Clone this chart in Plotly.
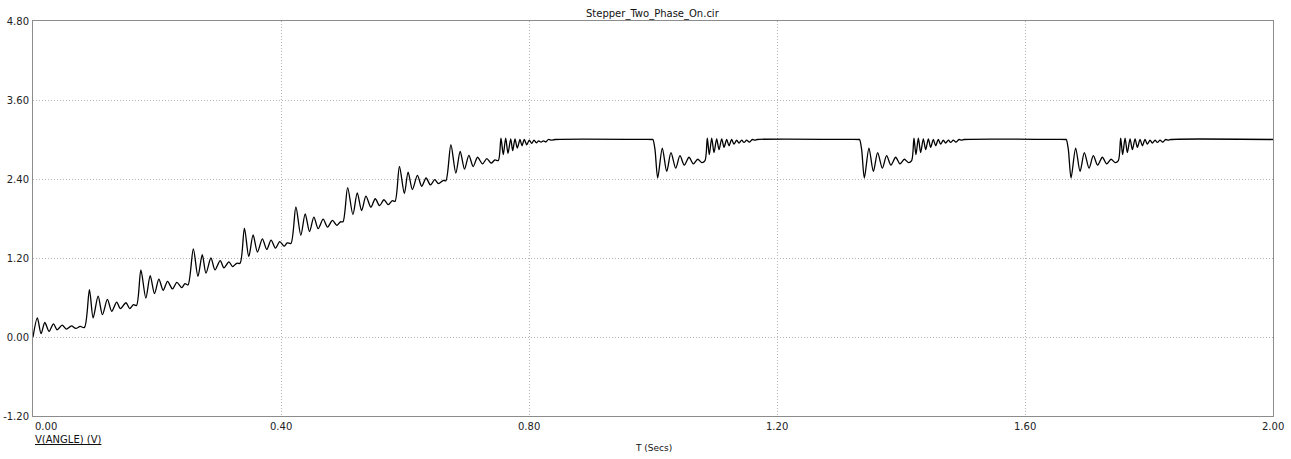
import plotly.graph_objects as go

# ---- data ----
ramp_t = [0.0, 0.007, 0.013, 0.019, 0.026, 0.033, 0.039, 0.047, 0.054, 0.062, 0.069, 0.076, 0.083,
          0.091, 0.097, 0.105, 0.112, 0.120, 0.127, 0.135, 0.141, 0.150, 0.156, 0.162, 0.167,
          0.174, 0.182, 0.189, 0.196, 0.203, 0.210, 0.217, 0.225, 0.232, 0.240, 0.245, 0.250,
          0.2586, 0.266, 0.273, 0.279, 0.287, 0.2935, 0.302, 0.308, 0.316, 0.322, 0.3285, 0.334,
          0.341, 0.348, 0.355, 0.362, 0.370, 0.377, 0.384, 0.391, 0.398, 0.405, 0.410, 0.416,
          0.424, 0.432, 0.439, 0.446, 0.453, 0.460, 0.468, 0.475, 0.483, 0.490, 0.496, 0.500,
          0.5075, 0.516, 0.523, 0.530, 0.537, 0.545, 0.552, 0.559, 0.566, 0.573, 0.5795, 0.584,
          0.591, 0.599, 0.605, 0.612, 0.620, 0.627, 0.634, 0.641, 0.648, 0.654, 0.662, 0.666,
          0.674, 0.682, 0.689, 0.696, 0.703, 0.710, 0.717, 0.725, 0.732, 0.739, 0.745, 0.7505,
          0.7548, 0.7585, 0.7624, 0.7661, 0.7705, 0.7737, 0.7774, 0.7811, 0.7855, 0.7887, 0.7924,
          0.7963, 0.8005, 0.8044, 0.8081, 0.8118, 0.8156, 0.8194, 0.8231, 0.8274, 0.8311, 0.8366,
          0.842]
ramp_v = [0.0, 0.29, 0.05, 0.22, 0.085, 0.20, 0.11, 0.18, 0.12, 0.17, 0.13, 0.16, 0.146,
          0.72, 0.29, 0.62, 0.34, 0.57, 0.39, 0.53, 0.43, 0.52, 0.43, 0.49, 0.48,
          1.02, 0.59, 0.93, 0.66, 0.88, 0.71, 0.845, 0.73, 0.83, 0.75, 0.81, 0.79,
          1.34, 0.92, 1.25, 0.97, 1.20, 1.02, 1.16, 1.05, 1.14, 1.07, 1.12, 1.12,
          1.655, 1.22, 1.55, 1.29, 1.49, 1.33, 1.47, 1.35, 1.45, 1.38, 1.43, 1.42,
          1.975, 1.545, 1.87, 1.60, 1.82, 1.645, 1.79, 1.67, 1.77, 1.695, 1.75, 1.75,
          2.27, 1.86, 2.19, 1.92, 2.14, 1.97, 2.10, 1.995, 2.085, 2.01, 2.07, 2.06,
          2.59, 2.18, 2.505, 2.24, 2.455, 2.29, 2.415, 2.31, 2.39, 2.33, 2.38, 2.375,
          2.92, 2.49, 2.82, 2.55, 2.76, 2.59, 2.73, 2.63, 2.71, 2.64, 2.69, 2.68,
          3.02, 2.77, 3.02, 2.79, 3.01, 2.83, 3.01, 2.87, 3.0, 2.905, 3.0,
          2.92, 2.99, 2.94, 2.99, 2.95, 2.98, 2.96, 2.98, 2.965, 3.0, 2.99,
          3.0]

hold_level = 3.0

# response after each disturbance (time offset from the disturbance, value)
dip_dt = [0.0, 0.0032, 0.0076, 0.015, 0.0221, 0.029, 0.0366, 0.0435, 0.0505, 0.0581, 0.065,
          0.0721, 0.0785, 0.0839, 0.0876, 0.0908, 0.0947, 0.0984, 0.1027, 0.1065, 0.1108,
          0.1145, 0.1189, 0.1226, 0.1269, 0.1306, 0.135, 0.1387, 0.1431, 0.1468, 0.1511,
          0.1553, 0.1602, 0.1645, 0.1682]
dip_v = [3.0, 2.85, 2.415, 2.87, 2.515, 2.80, 2.565, 2.755, 2.61, 2.73, 2.63,
         2.70, 2.65, 2.68, 3.02, 2.77, 3.02, 2.80, 3.01, 2.845, 3.01,
         2.88, 3.0, 2.905, 3.0, 2.93, 2.99, 2.945, 2.99, 2.955, 2.99,
         2.96, 3.0, 2.99, 3.0]
dip_times = [1.0, 1.3333, 1.6667]
t_end = 2.0

x_ticks = [0.0, 0.4, 0.8, 1.2, 1.6, 2.0]
x_tick_text = ["0.00", "0.40", "0.80", "1.20", "1.60", "2.00"]
y_ticks = [-1.2, 0.0, 1.2, 2.4, 3.6, 4.8]
y_tick_text = ["-1.20", "0.00", "1.20", "2.40", "3.60", "4.80"]

# ---- assemble the series ----
t = list(ramp_t)
v = list(ramp_v)
for t0 in dip_times:
    t.append(t0 - 0.0005)
    v.append(hold_level)
    for dt, dv in zip(dip_dt, dip_v):
        t.append(t0 + dt)
        v.append(dv)
t.append(t_end)
v.append(hold_level)

font = "DejaVu Sans"
fig = go.Figure()
fig.add_trace(go.Scatter(x=t, y=v, mode="lines",
                         line=dict(color="#000000", width=1.3, shape="spline", smoothing=0.8),
                         hoverinfo="skip", showlegend=False))

axis_common = dict(showline=True, mirror=True, linecolor="#8c8c8c", linewidth=1,
                   showgrid=True, gridcolor="#b4b4b4", gridwidth=1, griddash="1px,2px",
                   zeroline=False, ticks="", fixedrange=True, automargin=False)

fig.update_xaxes(range=[0, 2.0], tickvals=x_ticks, showticklabels=False, **axis_common)
fig.update_yaxes(range=[-1.2, 4.8], tickvals=y_ticks, ticktext=y_tick_text,
                 tickfont=dict(family=font, size=10, color="#222222"), ticklabelstandoff=1,
                 **axis_common)

annotations = []
for xv, txt in zip(x_ticks, x_tick_text):
    annotations.append(dict(x=xv, y=0, xref="x", yref="paper", yshift=-10, text=txt,
                            showarrow=False, xanchor="left" if xv == 0 else "center",
                            yanchor="middle", font=dict(family=font, size=10, color="#222222")))
annotations.append(dict(x=0, y=0, xref="paper", yref="paper", yshift=-23,
                        text="<u>V(ANGLE) (V)</u>", showarrow=False, xanchor="left",
                        yanchor="middle", font=dict(family=font, size=10, color="#111111")))
annotations.append(dict(x=0.5, y=0, xref="paper", yref="paper", yshift=-32,
                        text="T (Secs)", showarrow=False, xanchor="center",
                        yanchor="middle", font=dict(family=font, size=9, color="#111111")))
annotations.append(dict(x=0.5, y=1, xref="paper", yref="paper", yshift=7,
                        text="Stepper_Two_Phase_On.cir", showarrow=False, xanchor="center",
                        yanchor="middle", font=dict(family=font, size=10, color="#111111")))

fig.update_layout(
    width=1291, height=459,
    margin=dict(l=33, r=18, t=21, b=43, autoexpand=False),
    paper_bgcolor="white", plot_bgcolor="white",
    annotations=annotations,
    hovermode=False,
)

# remove the default 8px page margin so the figure fills the window exactly
fig.write_html("out.html",
               config={"displayModeBar": False, "staticPlot": True},
               post_script="document.body.style.margin='0';document.body.style.overflow='hidden';")
